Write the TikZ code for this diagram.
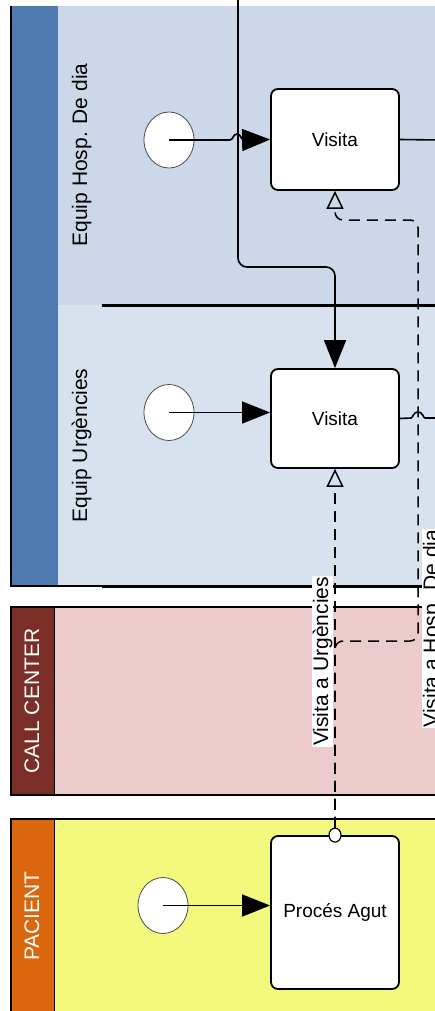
\documentclass[tikz,border=0pt]{standalone}
\usepackage{fontspec}
\setmainfont{Liberation Sans}
\usetikzlibrary{arrows.meta,shapes.geometric}
\definecolor{laneA}{RGB}{202,216,233}
\definecolor{laneB}{RGB}{216,225,238}
\definecolor{headBlue}{RGB}{79,122,175}
\definecolor{headRed}{RGB}{122,46,39}
\definecolor{bodyPink}{RGB}{235,203,203}
\definecolor{headOrange}{RGB}{218,102,14}
\definecolor{bodyYellow}{RGB}{242,249,124}
\begin{document}
\begin{tikzpicture}[x=1pt,y=-1pt,
  task/.style={draw, line width=1.8pt, rounded corners=7pt, fill=white, inner sep=0pt,
    minimum width=128pt, font=\fontsize{19}{22}\selectfont},
  startev/.style={ellipse, draw=black!70, line width=0.8pt, fill=white, inner sep=0pt,
    minimum width=50pt, minimum height=56pt},
  lanelabel/.style={rotate=90, anchor=base, font=\fontsize{21}{25}\selectfont, inner sep=0pt},
  msglabel/.style={rotate=90, anchor=base, font=\fontsize{21}{25}\selectfont, fill=white, inner sep=1pt},
  seqflow/.style={line width=1.6pt, -{Triangle[length=28pt,width=22pt]}},
  plainflow/.style={line width=1.6pt},
  msgtip/.style={-{Triangle[open,length=18pt,width=17pt,sep=0pt]}},
  msgflow/.style={line width=1.5pt, dash pattern=on 11pt off 7pt, msgtip},
  poolline/.style={line width=1.5pt},
  lanesep/.style={line width=3pt}
]
\useasboundingbox (0,0) rectangle (434,1011);

% ---- top pool: two lanes
\fill[laneA] (58,6) rectangle (440,305);
\fill[laneB] (58,305) rectangle (440,586);
\fill[headBlue] (11,6) rectangle (58,586);
\draw[poolline] (11,6) -- (11,586) -- (102,586);
\draw[lanesep] (102,586) -- (440,586);
\draw[lanesep] (102,305) -- (440,305);
\node[lanelabel] (l1) at (87,155) {Equip Hosp. De dia};
\node[lanelabel] (l2) at (87,445.5) {Equip Urgències};

% ---- call center pool
\fill[bodyPink] (54,607) rectangle (440,795);
\fill[headRed] (11,607) rectangle (54,795);
\draw[poolline] (440,607) -- (11,607) -- (11,795) -- (440,795);
\draw[line width=1pt] (54,607) -- (54,795);
\node[lanelabel, text=white] (l3) at (39,701) {CALL CENTER};

% ---- pacient pool
\fill[bodyYellow] (54,819) rectangle (440,1015);
\fill[headOrange] (11,819) rectangle (54,1015);
\draw[poolline] (440,819) -- (11,819) -- (11,1015);
\draw[line width=1pt] (54,819) -- (54,1015);
\node[lanelabel, text=white] (l4) at (39,916) {PACIENT};

% ---- tasks
\node[task, minimum height=101pt] (v1) at (335,139.5) {Visita};
\node[task, minimum height=99pt] (v2) at (335,418.5) {Visita};
\node[task, minimum height=153pt] (p) at (335,912.5) {Procés Agut};

% ---- start events
\node[startev] (c1) at (169,140) {};
\node[startev] (c2) at (169,412.5) {};
\node[startev] (c3) at (163,905.5) {};

% ---- sequence flows
\draw[seqflow] (c1.center) -- (230,140) .. controls (233,140) and (233,134) .. (237,134)
  .. controls (241,134) and (241,140) .. (244,140) -- (v1.west);
\draw[seqflow] (c2.center) -- (c2.center -| v2.west);
\draw[seqflow] (c3.center) -- (c3.center -| p.west);

\coordinate (in1) at (238,-3);
\draw[seqflow, rounded corners=9pt] (in1) -- (238,267) -- (335,267) -- (v2.north);

\coordinate (out1) at (440,140);
\draw[plainflow] (v1.east) -- (out1);
\coordinate (out2) at (440,418);
\draw[plainflow] (v2.east) -- (411,418) .. controls (413,418) and (413,412) .. (418,412)
  .. controls (423,412) and (423,418) .. (425,418) -- (out2);

% ---- message flows
\node[ellipse, draw, line width=1.2pt, fill=white, inner sep=0pt,
  minimum width=12pt, minimum height=14pt] (mc) at (p.north) {};
\draw[msgflow] (mc.north) -- (v2.south);
\draw[msgflow, rounded corners=8pt] (mc.north) -- (335,641) -- (418,641) -- (418,220)
  -- (335,220) -- (v1.south);

\node[msglabel] (m1) at (328,661.5) {Visita a Urgències};
\node[msglabel] (m2) at (438,628.5) {Visita a Hosp. De dia};
\end{tikzpicture}
\end{document}
